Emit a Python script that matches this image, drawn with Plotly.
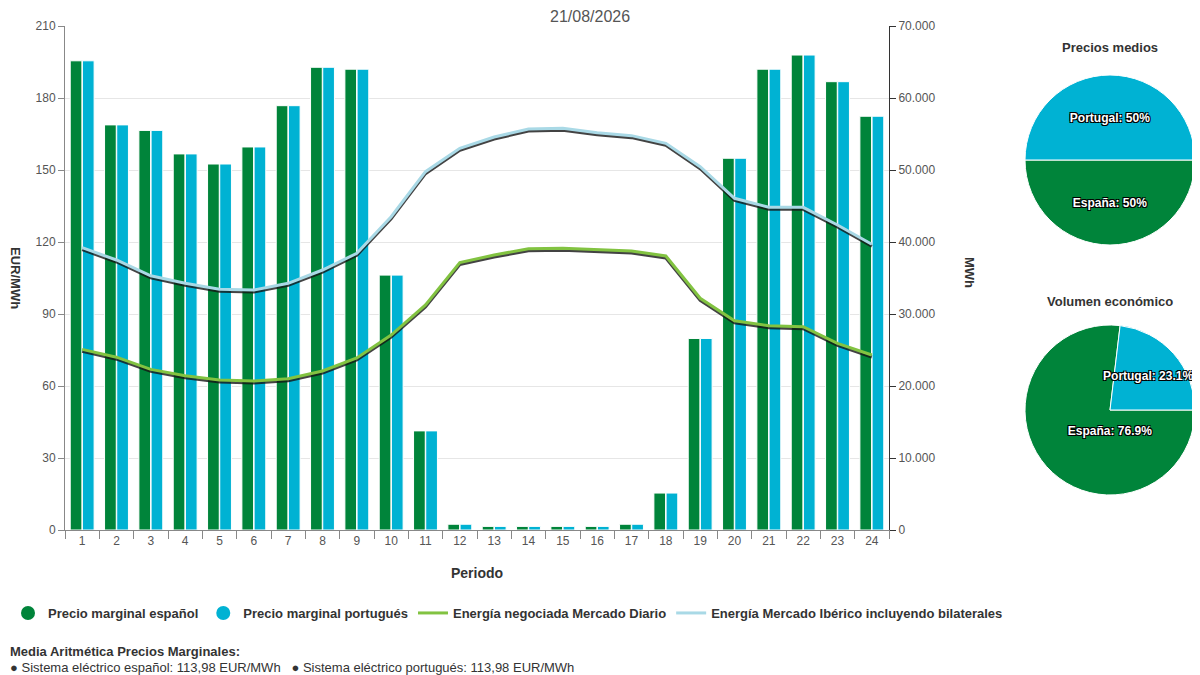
import plotly.graph_objects as go

# ── Data ──────────────────────────────────────────────────
periodos = list(range(1, 25))

precio_es = [195.5, 168.8, 166.5, 156.7, 152.5, 159.6, 176.8, 192.8, 192.0, 106.2, 41.3, 2.4,
             1.5, 1.5, 1.5, 1.5, 2.4, 15.4, 79.8, 154.9, 192.0, 197.9, 186.8, 172.4]
precio_pt = [195.5, 168.8, 166.5, 156.7, 152.5, 159.6, 176.8, 192.8, 192.0, 106.2, 41.3, 2.4,
             1.5, 1.5, 1.5, 1.5, 2.4, 15.4, 79.8, 154.9, 192.0, 197.9, 186.8, 172.4]

energia_diario = [25090, 24000, 22310, 21430, 20830, 20690, 21020, 22080, 23890, 27080, 31250, 37130,
                  38190, 39070, 39120, 38890, 38750, 38060, 32180, 29070, 28380, 28240, 25930, 24300]
energia_iberico = [39210, 37500, 35300, 34260, 33430, 33330, 34260, 36110, 38430, 43520, 49770, 53010,
                   54580, 55690, 55800, 55180, 54770, 53700, 50460, 46070, 44820, 44820, 42360, 39680]

mwh_ticks = list(range(0, 70001, 10000))
eur_ticks = list(range(0, 211, 30))

pie_labels = ["España", "Portugal"]
precios_medios = [113.98, 113.98]
volumen_economico = [76.9, 23.1]

# ── Styles ────────────────────────────────────────────────
GREEN = "#00843A"
BLUE = "#00B2D3"
LINE_GREEN = "#82C341"
LINE_BLUE = "#A9D9E6"
FONT = "Liberation Sans, Arial, sans-serif"
OUTLINE = "-1px -1px 0 #000, 1px -1px 0 #000, -1px 1px 0 #000, 1px 1px 0 #000"

W, H = 1200, 675
OFF = 8  # page body margin


def px(x):
    return (x - OFF) / W


def py(y):
    return 1 - (y - OFF) / H


fig = go.Figure()

# legend-only markers (circles like the original)
fig.add_trace(go.Scatter(x=[None], y=[None], mode="markers", name="Precio marginal español",
                         marker=dict(color=GREEN, size=14), xaxis="x", yaxis="y"))
fig.add_trace(go.Scatter(x=[None], y=[None], mode="markers", name="Precio marginal portugués",
                         marker=dict(color=BLUE, size=14), xaxis="x", yaxis="y"))

# bars
fig.add_trace(go.Bar(x=periodos, y=precio_es, marker=dict(color=GREEN, line=dict(color="white", width=1)),
                     showlegend=False, xaxis="x", yaxis="y"))
fig.add_trace(go.Bar(x=periodos, y=precio_pt, marker=dict(color=BLUE, line=dict(color="white", width=1)),
                     showlegend=False, xaxis="x", yaxis="y"))

# line shadows (same data, drawn on a slightly shifted hidden axis)
for serie in (energia_diario, energia_iberico):
    fig.add_trace(go.Scatter(x=periodos, y=serie, mode="lines", showlegend=False, hoverinfo="skip",
                             line=dict(color="rgba(20,20,20,0.8)", width=3), xaxis="x", yaxis="y2"))

# lines
fig.add_trace(go.Scatter(x=periodos, y=energia_diario, mode="lines", name="Energía negociada Mercado Diario",
                         line=dict(color=LINE_GREEN, width=3), xaxis="x", yaxis="y3"))
fig.add_trace(go.Scatter(x=periodos, y=energia_iberico, mode="lines",
                         name="Energía Mercado Ibérico incluyendo bilaterales",
                         line=dict(color=LINE_BLUE, width=3), xaxis="x", yaxis="y3"))

# pies
pie_common = dict(
    labels=pie_labels, sort=False, direction="counterclockwise", rotation=90,
    marker=dict(colors=[GREEN, BLUE], line=dict(color="white", width=1)),
    texttemplate="%{label}: %{percent}", textposition="inside", insidetextorientation="horizontal",
    textfont=dict(color="white", size=12, family=FONT, weight="bold", shadow=OUTLINE),
    showlegend=False, hoverinfo="label+percent",
)
fig.add_trace(go.Pie(values=precios_medios, domain=dict(x=[px(1025), px(1195)], y=[py(245), py(75)]),
                     **pie_common))
fig.add_trace(go.Pie(values=volumen_economico, domain=dict(x=[px(1025), px(1195)], y=[py(495), py(325)]),
                     **pie_common))

XDOM = [px(65), px(889)]
YDOM = [py(530), py(26)]
shift = 2 * 70000 / 504  # 2 px

fig.update_layout(
    width=W, height=H,
    margin=dict(l=0, r=0, t=0, b=0, autoexpand=False),
    paper_bgcolor="white", plot_bgcolor="white",
    font=dict(family=FONT, size=12, color="#555"),
    uniformtext=dict(minsize=12, mode="show"),
    barmode="group", bargap=0.29, bargroupgap=0.04,
    xaxis=dict(domain=XDOM, range=[0.5, 24.5], tickmode="array", tickvals=periodos, ticks="",
               showline=True, linecolor="#888", linewidth=1, showgrid=False, zeroline=False,
               tickfont=dict(size=12, color="#555"), automargin=False,
               minor=dict(tickmode="linear", tick0=0.5, dtick=1, ticks="outside", ticklen=8,
                          tickcolor="#888", showgrid=False)),
    yaxis=dict(domain=YDOM, range=[0, 210], tickvals=eur_ticks, ticks="outside", ticklen=6,
               tickcolor="#888", showline=True, linecolor="#888", gridcolor="#e6e6e6", zeroline=False,
               tickfont=dict(size=12, color="#555"), automargin=False),
    yaxis2=dict(domain=YDOM, overlaying="y", range=[shift, 70000 + shift], visible=False),
    yaxis3=dict(domain=YDOM, overlaying="y", side="right", anchor="x", range=[0, 70000],
                tickmode="array", tickvals=mwh_ticks, ticktext=[f"{v:,}".replace(",", ".") for v in mwh_ticks],
                ticks="outside", ticklen=6,
                tickcolor="#333", showline=True, linecolor="#333", showgrid=False, zeroline=False,
                tickfont=dict(size=12, color="#555"), automargin=False),
    legend=dict(orientation="h", x=0, xanchor="left", y=py(613), yanchor="middle",
                font=dict(size=13, color="#333", weight="bold"), itemwidth=30, bgcolor="rgba(0,0,0,0)"),
)

annotations = [
    dict(text="21/08/2026", x=px(590), y=py(16), font=dict(size=16, color="#555")),
    dict(text="<b>EUR/MWh</b>", x=px(16), y=py(278), textangle=90, font=dict(size=13, color="#333")),
    dict(text="<b>MWh</b>", x=px(970), y=py(272), textangle=90, font=dict(size=13, color="#333")),
    dict(text="<b>Periodo</b>", x=px(477), y=py(573), font=dict(size=14, color="#333")),
    dict(text="<b>Precios medios</b>", x=px(1110), y=py(47), font=dict(size=13, color="#333")),
    dict(text="<b>Volumen económico</b>", x=px(1110), y=py(302), font=dict(size=13, color="#333")),
    dict(text="<b>Media Aritmética Precios Marginales:</b>", x=px(8), y=py(651), xanchor="left",
         font=dict(size=13, color="#333")),
    dict(text="● Sistema eléctrico español: 113,98 EUR/MWh   ● Sistema eléctrico portugués: 113,98 EUR/MWh",
         x=px(8), y=py(667), xanchor="left", font=dict(size=13, color="#333")),
]
for a in annotations:
    a.setdefault("xanchor", "center")
    a.update(xref="paper", yref="paper", yanchor="middle", showarrow=False)
fig.update_layout(annotations=annotations)

fig.write_html("out.html")
